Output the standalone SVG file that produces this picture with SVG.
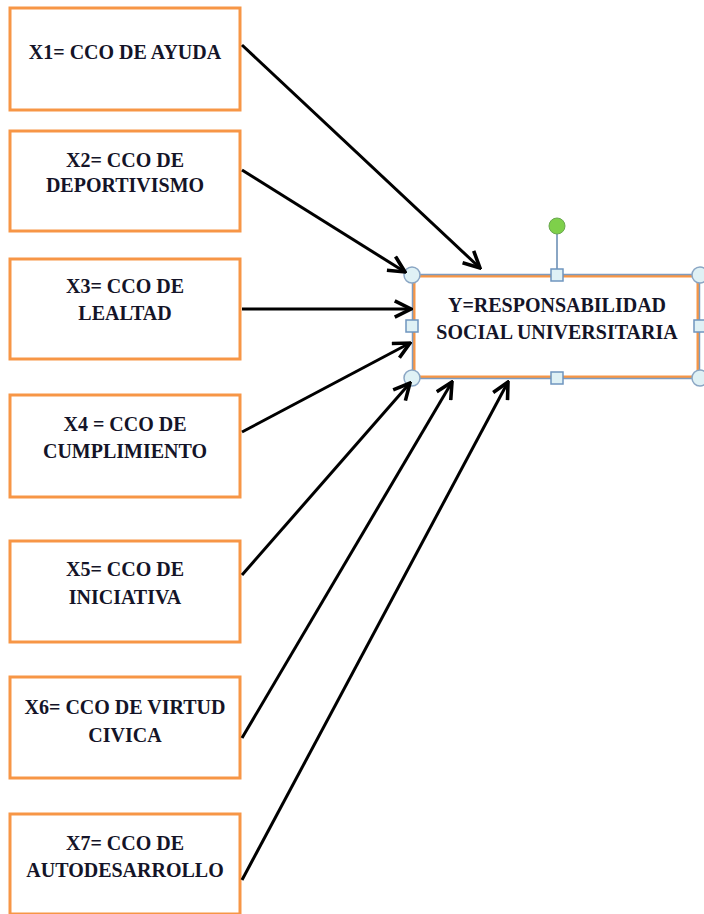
<svg xmlns="http://www.w3.org/2000/svg" width="704" height="914" viewBox="0 0 704 914">
<defs>
<style>
.box{fill:#fff;stroke:#f79646;stroke-width:3}
.t{font-family:"Liberation Serif","Times New Roman",serif;font-weight:bold;font-size:20px;fill:#141428;text-anchor:middle}
.c{stroke:#000;stroke-width:3;fill:none;marker-end:url(#ah)}
.sel{fill:none;stroke:#7f9cbf;stroke-width:1.5}
.hc{fill:#dff1f5;stroke:#8aa6c4;stroke-width:1.5}
.hs{fill:#dff1f5;stroke:#6f95bf;stroke-width:1.5}
</style>
<marker id="ah" viewBox="0 0 12 12" refX="11" refY="6" markerWidth="6.5" markerHeight="6.5" markerUnits="strokeWidth" orient="auto">
<path d="M1,1 L11,6 L1,11" fill="none" stroke="#000" stroke-width="2.2" stroke-linejoin="miter"/>
</marker>
</defs>
<g id="x1"><rect class="box" x="10" y="8" width="230" height="102"/><text class="t" x="125" y="59">X1= CCO DE AYUDA</text></g>
<g id="x2"><rect class="box" x="10" y="131" width="230" height="100"/><text class="t" x="125" y="167">X2= CCO DE</text><text class="t" x="125" y="192">DEPORTIVISMO</text></g>
<g id="x3"><rect class="box" x="10" y="259" width="230" height="100"/><text class="t" x="125" y="293">X3= CCO DE</text><text class="t" x="125" y="320">LEALTAD</text></g>
<g id="x4"><rect class="box" x="10" y="395" width="230" height="102"/><text class="t" x="125" y="431">X4 = CCO DE</text><text class="t" x="125" y="458">CUMPLIMIENTO</text></g>
<g id="x5"><rect class="box" x="10" y="541" width="230" height="101"/><text class="t" x="125" y="576">X5= CCO DE</text><text class="t" x="125" y="604">INICIATIVA</text></g>
<g id="x6"><rect class="box" x="10" y="677" width="230" height="101"/><text class="t" x="125" y="714">X6= CCO DE VIRTUD</text><text class="t" x="125" y="742">CIVICA</text></g>
<g id="x7"><rect class="box" x="10" y="814" width="230" height="100"/><text class="t" x="125" y="850">X7= CCO DE</text><text class="t" x="125" y="877">AUTODESARROLLO</text></g>
<g id="y">
<rect class="box" x="414" y="276" width="284" height="101"/>
<rect class="sel" x="412.5" y="274.5" width="287" height="104"/>
<text class="t" x="557" y="312">Y=RESPONSABILIDAD</text>
<text class="t" x="557" y="339">SOCIAL UNIVERSITARIA</text>
<line x1="557" y1="234" x2="557" y2="270" stroke="#8aa6c4" stroke-width="2"/>
<circle cx="557" cy="226" r="8" fill="#7ed04a" stroke="#6aa84f" stroke-width="1"/>
<circle class="hc" cx="412" cy="275" r="8"/>
<circle class="hc" cx="700" cy="275" r="8"/>
<circle class="hc" cx="412" cy="378" r="8"/>
<circle class="hc" cx="700" cy="378" r="8"/>
<rect class="hs" x="551" y="269" width="12" height="12"/>
<rect class="hs" x="551" y="372" width="12" height="12"/>
<rect class="hs" x="406" y="320" width="12" height="12"/>
<rect class="hs" x="694" y="320" width="12" height="12"/>
</g>
<g id="connectors">
<line class="c" x1="242" y1="45" x2="480" y2="268"/>
<line class="c" x1="242" y1="170" x2="405" y2="272"/>
<line class="c" x1="242" y1="309" x2="411" y2="309"/>
<line class="c" x1="242" y1="432" x2="410" y2="343"/>
<line class="c" x1="242" y1="575" x2="410" y2="383"/>
<line class="c" x1="242" y1="738" x2="452" y2="382"/>
<line class="c" x1="242" y1="880" x2="508" y2="382"/>
</g>
</svg>
